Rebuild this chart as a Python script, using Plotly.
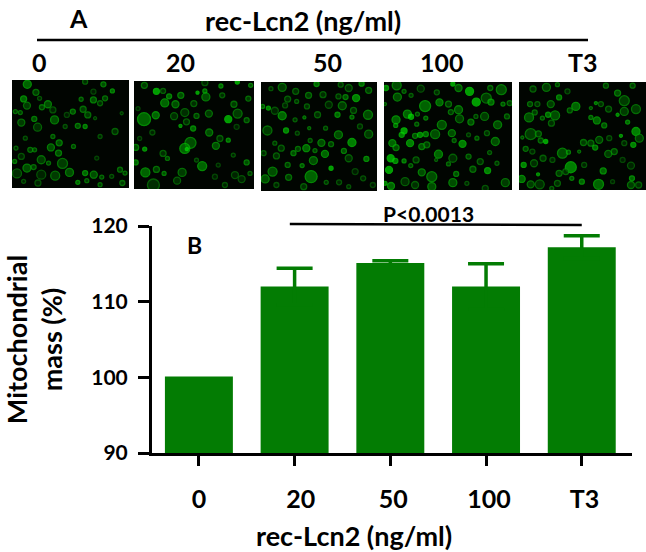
import plotly.graph_objects as go

W, H = 646, 552

# Bar chart data
categories = ["0", "20", "50", "100", "T3"]
tick_text = ["0", "\u00a0\u00a020", "\u00a050", "\u00a0100", "\u00a0T3"]
mass_pct = [100.1, 112.0, 115.1, 112.0, 117.2]
err_upper = [None, 2.4, 0.3, 3.0, 1.5]
y_ticks = [90, 100, 110, 120]

# Micrograph cells: (x, y, diameter px, brightness)
PANEL_0 = [(66,28,8,.8),(92,52,6,.6),(103,70,4,.4),(55,72,6,.8),(65,92,7,.6),(110,97,5,.6),(128,88,7,.7),(30,110,4,.6),(45,113,4,.6),(48,143,7,.6),(87,132,5,.7),(97,157,8,.5),(148,135,8,.7),(143,105,6,.4),(203,110,5,.7),(234,103,6,.6),(248,120,6,.6),(218,153,5,.7),(240,155,4,.8),(228,73,4,.6),(265,75,6,.7),(285,85,5,.5),(300,70,5,.6),(295,28,5,.7),(322,48,4,.8),(265,50,5,.3),(240,20,5,.5),(185,120,5,.3),(180,155,4,.4),(137,218,7,.7),(162,204,6,.7),(160,235,6,.7),(143,185,4,.6),(205,215,4,.6),(108,255,8,.6),(130,265,4,.6),(172,266,10,.6),(65,280,8,.7),(85,277,5,.6),(35,296,9,.5),(108,300,9,.4),(150,303,9,.6),(193,293,8,.7),(218,323,4,.8),(240,295,5,.8),(266,300,7,.7),(245,318,4,.6),(290,307,4,.6),(285,330,4,.6),(345,285,5,.6),(360,295,4,.6),(352,325,5,.6),(320,305,4,.4),(75,225,5,.6),(88,225,4,.6),(32,220,4,.5),(48,245,6,.4),(28,260,4,.7),(98,325,6,.4),(55,320,4,.4),(330,170,6,.5),(285,185,4,.4),(60,190,4,.4),(275,250,4,.3),(350,115,3,.4),(270,130,3,.4)]
PANEL_1 = [(44,30,6,.6),(80,48,6,1),(100,47,5,.5),(118,63,5,.8),(153,60,6,.7),(105,83,8,.8),(137,87,7,.7),(43,132,13,.8),(78,120,7,.8),(133,123,7,.5),(165,112,8,.5),(200,122,5,.6),(237,115,7,.6),(170,140,6,.5),(192,85,6,.5),(228,65,8,.7),(203,52,3,1),(225,47,4,.8),(225,22,6,.4),(277,60,5,.5),(273,32,4,.8),(322,20,4,1),(355,70,5,.6),(312,87,6,.6),(323,115,9,.6),(295,132,7,1),(350,135,5,.6),(190,160,5,.8),(152,152,3,.9),(238,172,7,.7),(270,190,6,.5),(295,195,4,.8),(182,203,11,.7),(165,220,10,.8),(171,222,3,1),(258,212,7,.7),(18,217,6,.7),(45,222,4,.9),(68,172,5,.4),(100,235,6,.5),(113,250,4,.6),(18,262,5,.8),(80,283,6,.6),(103,295,4,.7),(47,292,9,.8),(157,292,8,.6),(217,273,9,.8),(142,317,7,.5),(71,330,12,.5),(255,305,5,.3),(315,300,7,.4),(335,312,7,.4),(360,295,4,.5),(350,262,5,.7),(285,330,5,.4),(310,240,4,.4),(200,255,4,.4),(265,270,4,.3),(30,190,4,.3),(320,155,5,.3),(362,30,4,.7),(25,100,4,.3)]
PANEL_2 = [(83,38,8,.6),(48,42,4,.4),(125,50,6,.5),(190,28,5,.8),(165,62,6,.6),(100,73,6,.5),(210,60,6,.5),(265,30,5,.5),(290,40,7,.5),(330,27,5,.8),(352,47,6,.6),(313,70,7,.9),(280,67,5,.7),(258,65,5,.5),(228,90,7,.4),(270,93,8,.6),(160,95,5,.5),(128,80,4,.5),(92,92,5,.4),(40,100,4,.9),(22,95,4,.7),(60,108,7,.4),(83,123,8,.8),(123,135,4,.5),(152,128,3,.7),(193,120,6,.5),(255,120,5,.8),(300,127,4,.7),(305,107,6,.5),(350,120,9,.7),(37,167,9,.6),(95,167,5,.9),(167,160,3,.6),(258,180,8,.7),(218,160,4,.5),(325,155,5,.4),(352,178,8,.6),(300,203,8,.9),(205,204,7,.7),(235,208,5,.6),(170,197,4,.5),(130,175,4,.4),(80,220,6,.5),(60,205,4,.5),(118,235,5,.7),(158,220,7,.8),(132,222,5,.6),(185,227,4,.6),(216,237,7,.8),(275,228,5,.7),(180,257,8,.7),(65,243,6,.5),(100,270,5,.6),(145,272,4,.7),(25,235,5,.5),(235,280,4,1),(290,250,7,.5),(345,252,5,.8),(53,290,9,.7),(30,312,8,.7),(103,307,6,.6),(173,305,12,.8),(220,322,4,.5),(65,330,5,.4),(150,335,6,.5),(260,322,5,.4),(310,290,6,.3),(335,310,5,.4),(365,330,5,.3),(290,335,4,.4)]
PANEL_3 = [(18,40,5,.9),(50,32,9,.7),(52,67,8,.7),(72,50,4,.6),(122,42,7,.4),(170,53,5,.5),(93,62,4,.5),(218,28,4,1),(235,40,7,.7),(268,50,8,1),(330,40,5,.6),(363,45,10,.7),(135,94,11,.8),(178,83,7,.8),(205,88,6,.6),(235,105,8,.7),(288,82,8,1),(318,70,10,.6),(332,82,6,.8),(368,88,4,.7),(388,85,5,.6),(15,88,3,.6),(82,118,8,.8),(93,126,5,1),(112,118,4,.6),(48,135,8,.8),(47,152,4,.8),(185,150,9,.7),(137,130,4,.7),(110,148,4,.6),(212,112,5,.6),(238,132,8,.6),(272,142,6,.7),(287,125,4,.5),(313,125,8,.6),(352,150,8,.7),(380,125,5,.6),(72,168,6,1),(65,180,5,.9),(165,178,9,.7),(215,175,7,.7),(105,183,5,.7),(120,180,5,.9),(137,178,5,.8),(37,205,7,.8),(90,205,7,.9),(48,218,6,.7),(125,215,6,.7),(140,210,6,.6),(247,207,7,.9),(222,197,4,.6),(290,190,4,.6),(345,200,8,.7),(265,180,4,.4),(320,175,5,.5),(175,238,8,.8),(218,250,8,.5),(32,250,7,1),(46,258,5,.9),(27,285,7,1),(108,255,6,.5),(72,258,4,.8),(265,245,5,.6),(328,233,4,.5),(205,267,4,.6),(92,272,4,.6),(125,292,7,.7),(155,305,10,.7),(322,287,6,.9),(278,283,6,.6),(228,297,5,.7),(168,255,3,.5),(33,333,7,.8),(75,320,8,.5),(105,330,7,.5),(155,335,8,.7),(218,323,8,.7),(375,323,8,.6),(15,325,4,.9),(350,265,4,.5),(300,260,6,.5),(260,325,4,.4),(315,340,6,.4)]
PANEL_4 = [(92,38,8,.6),(52,43,6,.5),(125,30,4,.6),(155,50,5,.4),(270,33,5,.6),(305,55,6,.7),(350,33,5,.6),(325,78,10,.6),(130,68,5,.8),(105,88,7,.6),(65,88,5,.5),(43,88,5,.6),(180,95,8,.8),(162,107,5,.6),(225,100,3,.6),(240,85,3,.8),(255,88,5,.5),(40,128,9,.7),(57,113,5,.6),(80,130,4,.6),(118,122,9,.7),(97,120,5,.8),(107,145,6,.5),(278,103,6,.5),(325,110,8,.6),(360,103,9,.6),(305,120,3,.9),(243,137,7,.8),(225,128,4,.7),(265,152,5,.7),(335,142,4,.8),(45,178,11,.6),(68,177,6,.6),(75,197,5,.6),(20,188,3,.6),(90,200,4,1),(360,170,8,.9),(370,190,8,.6),(315,183,3,.9),(250,195,7,.6),(203,203,6,.6),(225,205,6,.6),(238,218,5,.8),(280,190,5,.4),(352,210,5,.9),(30,222,5,.6),(50,230,5,.4),(140,235,10,.7),(158,232,4,.7),(190,230,3,.6),(277,237,7,.6),(295,230,6,.6),(325,205,5,.4),(82,250,6,.5),(24,270,5,.9),(55,265,7,.5),(165,277,11,.9),(110,255,5,.4),(262,288,6,.8),(67,298,3,.9),(130,295,6,.6),(150,290,6,.5),(205,270,5,.4),(345,272,7,.4),(18,312,7,.8),(168,310,4,.7),(198,320,5,.8),(248,328,10,.8),(348,310,5,.8),(345,330,7,.6),(368,330,6,.5),(72,328,9,.5),(45,328,7,.6),(125,325,6,.5),(108,340,4,.5),(320,255,5,.3),(290,320,4,.3)]
PANELS = [PANEL_0, PANEL_1, PANEL_2, PANEL_3, PANEL_4]
# Extent of each panel in its own reading coordinates
PANEL_X_RANGE = [(20, 372), (13, 372), (17, 378), (12, 395), (10, 390)]
PANEL_Y_RANGE = [(340, 15), (342, 17), (348, 22), (345, 22), (345, 22)]
# Placement on the page, pixels: left, right, top, bottom
PANEL_BOX = [(12, 129, 80, 188), (134, 254, 81, 189), (261, 377, 82, 191), (384, 512, 82, 190), (519, 646, 82, 190)]

FONT = "Lato"
BAR = "#037c03"
def bold(size, family=FONT):
    return dict(family=family, size=size, color="black", weight=700)
def px(x): return x / W
def py(y): return 1 - y / H

fig = go.Figure()
fig.add_trace(go.Bar(
    x=list(range(5)), y=mass_pct, width=0.71,
    marker=dict(color=BAR, line=dict(width=0)), showlegend=False,
))
# Error whiskers: the lower half falls inside the same-coloured bar
err_idx = [i for i, e in enumerate(err_upper) if e is not None]
fig.add_trace(go.Scatter(
    x=err_idx, y=[mass_pct[i] for i in err_idx], mode="markers",
    marker=dict(size=1, color=BAR), showlegend=False,
    error_y=dict(type="data", array=[err_upper[i] for i in err_idx],
                 color=BAR, thickness=3.5, width=18),
))

layout = dict(
    width=W, height=H, margin=dict(l=0, r=0, t=0, b=0, autoexpand=False),
    paper_bgcolor="white", plot_bgcolor="white", showlegend=False,
    xaxis=dict(domain=[px(152), px(632)], range=[-0.49, 4.525], tickmode="array", automargin=False,
               tickvals=list(range(5)), ticktext=tick_text, ticks="outside", ticklen=10,
               tickwidth=2.5, tickcolor="black", showline=True, linewidth=3, linecolor="black",
               showgrid=False, zeroline=False, tickfont=bold(25), ticklabelstandoff=12),
    yaxis=dict(domain=[py(453), py(226)], range=[90, 120], tickmode="array", tickvals=y_ticks, automargin=False,
               ticks="outside", ticklen=11, tickwidth=2.5, tickcolor="black", showline=True,
               linewidth=3, linecolor="black", showgrid=False, zeroline=False, tickfont=bold(21),
               ticklabelstandoff=6,
               title=dict(text="Mitochondrial<br>mass (%)", font=bold(27), standoff=26)),
)
shapes = [
    dict(type="line", xref="paper", yref="paper", x0=px(37), x1=px(588), y0=py(40), y1=py(40),
         line=dict(color="black", width=2.5)),
    dict(type="line", xref="x", yref="paper", x0=0.95, x1=4.0, y0=py(224), y1=py(225),
         line=dict(color="black", width=2.5)),
]
for i, (cells, xr, yr, box) in enumerate(zip(PANELS, PANEL_X_RANGE, PANEL_Y_RANGE, PANEL_BOX)):
    n = i + 2
    layout[f"xaxis{n}"] = dict(domain=[px(box[0]), px(box[1])], range=list(xr), visible=False, anchor=f"y{n}")
    layout[f"yaxis{n}"] = dict(domain=[py(box[3]), py(box[2])], range=list(yr), visible=False, anchor=f"x{n}")
    shapes.append(dict(type="rect", xref=f"x{n} domain", yref=f"y{n} domain", x0=0, x1=1, y0=0, y1=1,
                       fillcolor="#010501", line=dict(width=0), layer="below"))
    fig.add_trace(go.Scatter(
        x=[c[0] for c in cells], y=[c[1] for c in cells], mode="markers",
        xaxis=f"x{n}", yaxis=f"y{n}", showlegend=False, hoverinfo="skip",
        marker=dict(size=[c[2] for c in cells],
                    color=[f"rgb(0,{int(30 + 190 * c[3] ** 2.5)},0)" for c in cells],
                    line=dict(width=1.3, color=[f"rgb(5,{int(40 + 190 * c[3])},5)" for c in cells])),
    ))
layout["shapes"] = shapes

def note(text, x, y, size, family=FONT):
    return dict(text=text, xref="paper", yref="paper", x=px(x), y=py(y), xanchor="center",
                yanchor="middle", showarrow=False, font=bold(size, family))

layout["annotations"] = [
    note("A", 78, 18, 25),
    note("rec-Lcn2 (ng/ml)", 303, 20, 27),
    note("0", 39, 62, 25),
    note("20", 180, 62, 25),
    note("50", 327, 62, 25),
    note("100", 442, 62, 25),
    note("T3", 583, 62, 25),
    note("P&lt;0.0013", 428, 213, 21),
    note("B", 194, 245, 23),
    note("rec-Lcn2 (ng/ml)", 354, 535, 27),
]
fig.update_layout(**layout)
fig.write_html("out.html", config=dict(displayModeBar=False),
               post_script="document.body.style.margin='0';document.body.style.overflow='hidden';")
